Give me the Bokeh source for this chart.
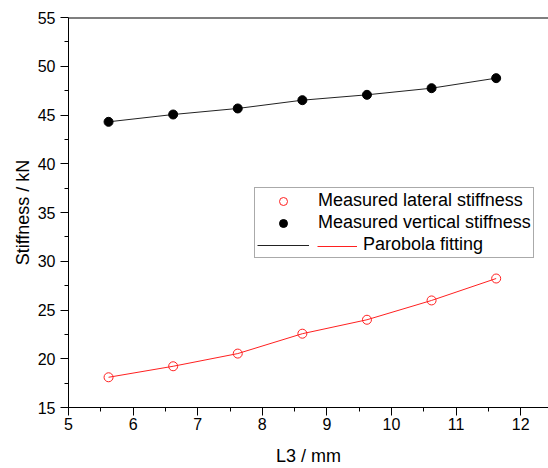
from bokeh.plotting import figure
from bokeh.models import FixedTicker, Span, Legend, LegendItem, Range1d
from bokeh.embed import file_html
from bokeh.resources import INLINE

# ---- data ----
l3 = [5.62, 6.62, 7.62, 8.62, 9.62, 10.62, 11.62]
vertical = [44.3, 45.05, 45.67, 46.52, 47.07, 47.75, 48.78]
lateral = [18.1, 19.23, 20.53, 22.57, 24.0, 25.98, 28.23]
x_ticks = [5, 6, 7, 8, 9, 10, 11, 12]
y_ticks = [15, 20, 25, 30, 35, 40, 45, 50, 55]
x_label = "L3 / mm"
y_label = "Stiffness / kN"
legend_labels = ["Measured lateral stiffness", "Measured vertical stiffness", "Parobola fitting"]

FONT = "Liberation Sans"

p = figure(width=548, height=468, output_backend="svg", toolbar_location=None,
           x_range=Range1d(x_ticks[0], 12.43), y_range=Range1d(y_ticks[0], y_ticks[-1]),
           min_border_left=68, min_border_right=0, min_border_top=17, min_border_bottom=61)
p.outline_line_color = None
p.grid.visible = False
p.background_fill_color = "white"
p.border_fill_color = "white"

p.xaxis.ticker = FixedTicker(ticks=x_ticks,
                             minor_ticks=[(a + b) / 2 for a, b in zip(x_ticks[:-1], x_ticks[1:])] + [x_ticks[-1] + 0.5])
p.yaxis.ticker = FixedTicker(ticks=y_ticks,
                             minor_ticks=[(a + b) / 2 for a, b in zip(y_ticks[:-1], y_ticks[1:])])
p.xaxis.axis_label = x_label
p.yaxis.axis_label = y_label

for ax in (p.xaxis[0], p.yaxis[0]):
    ax.axis_line_color = "black"
    ax.axis_line_width = 1
    ax.major_tick_in = 0
    ax.major_tick_out = 8
    ax.minor_tick_in = 0
    ax.minor_tick_out = 4
    ax.major_tick_line_color = "black"
    ax.minor_tick_line_color = "black"
    ax.major_label_text_font = FONT
    ax.major_label_text_font_size = "16px"
    ax.major_label_text_color = "black"
    ax.axis_label_text_font = FONT
    ax.axis_label_text_font_size = "18px"
    ax.axis_label_text_font_style = "normal"
    ax.axis_label_text_color = "black"

p.xaxis.major_label_standoff = 2
p.xaxis.axis_label_standoff = 13
p.yaxis.major_label_standoff = 5
p.yaxis.axis_label_standoff = 2

# top frame line
p.add_layout(Span(location=y_ticks[-1], dimension="width", line_color="black", line_width=2))

# fitting lines
r_vert_line = p.line(l3, vertical, line_color="#222222", line_width=1)
r_lat_line = p.line(l3, lateral, line_color="#ff2020", line_width=1)

# measured points
r_lat_pts = p.scatter(l3, lateral, marker="circle", size=9, fill_color=None,
                      line_color="#ff2020", line_width=1)
r_vert_pts = p.scatter(l3, vertical, marker="circle", size=9, fill_color="black",
                       line_color="black", line_width=1)

leg = Legend(items=[LegendItem(label=legend_labels[0], renderers=[r_lat_pts]),
                    LegendItem(label=legend_labels[1], renderers=[r_vert_pts]),
                    LegendItem(label="\u00a0" * 9 + legend_labels[2], renderers=[r_vert_line])],
             location=(186, 149), padding=2, spacing=1, glyph_width=52, glyph_height=20,
             label_height=20, label_standoff=9, margin=0,
             border_line_color="#555555", border_line_width=1, background_fill_color="white",
             label_text_font=FONT, label_text_font_size="18px", label_text_color="black")
p.add_layout(leg)

leg2 = Legend(items=[LegendItem(label=" ", renderers=[r_lat_line])],
              location=(249, 151), padding=0, spacing=0, glyph_width=40, glyph_height=20,
              label_height=20, label_standoff=0, margin=0,
              border_line_color=None, background_fill_alpha=0,
              label_text_font=FONT, label_text_font_size="18px")
p.add_layout(leg2)

open("out.html", "w").write(file_html(p, INLINE))
